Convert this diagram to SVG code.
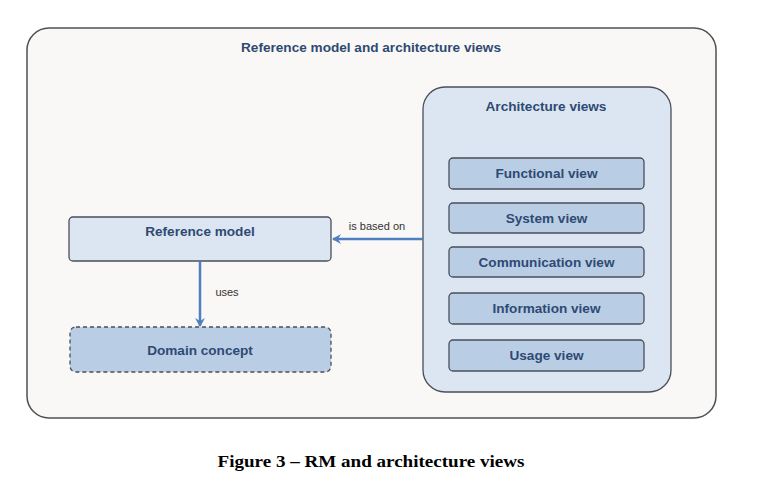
<svg xmlns="http://www.w3.org/2000/svg" width="763" height="487" viewBox="0 0 763 487">
<style>
.t{font-family:"Liberation Sans",Arial,sans-serif;font-weight:bold;font-size:13.6px;fill:#2e4a72;text-anchor:middle}
.l{font-family:"Liberation Sans",Arial,sans-serif;font-size:11px;fill:#333;text-anchor:middle}
.box{fill:#dce6f2;stroke:#4a4f57;stroke-width:1.3}
.view{fill:#b9cde5;stroke:#4a4f57;stroke-width:1.3}
.conn{stroke:#4f7fbf;stroke-width:2.5;fill:none}
</style>
<defs>
<marker id="ah" markerWidth="10" markerHeight="10" refX="8" refY="5" orient="auto" markerUnits="userSpaceOnUse">
<path d="M0,0 L9,5 L0,10 L3,5 Z" fill="#4f7fbf"/>
</marker>
</defs>
<rect width="763" height="487" fill="#ffffff"/>
<g id="outer">
<rect x="27" y="28" width="689" height="390" rx="22" fill="#f9f8f6" stroke="#505050" stroke-width="1.5"/>
<text class="t" x="371" y="52">Reference model and architecture views</text>
</g>
<g id="arch">
<rect x="423" y="87" width="248" height="305" rx="22" class="box"/>
<text class="t" x="546" y="111">Architecture views</text>
</g>
<g id="functional"><rect x="449" y="158" width="195" height="31" rx="4" class="view"/><text class="t" x="546.5" y="178">Functional view</text></g>
<g id="system"><rect x="449" y="203" width="195" height="30" rx="4" class="view"/><text class="t" x="546.5" y="223">System view</text></g>
<g id="communication"><rect x="449" y="247" width="195" height="30" rx="4" class="view"/><text class="t" x="546.5" y="267">Communication view</text></g>
<g id="information"><rect x="449" y="293" width="195" height="31" rx="4" class="view"/><text class="t" x="546.5" y="313">Information view</text></g>
<g id="usage"><rect x="449" y="340" width="195" height="31" rx="4" class="view"/><text class="t" x="546.5" y="360">Usage view</text></g>
<g id="refmodel"><rect x="69" y="217" width="262" height="44" rx="4" class="box"/><text class="t" x="200" y="236">Reference model</text></g>
<g id="domain"><rect x="70" y="327" width="261" height="45" rx="6" fill="#b9cde5" stroke="#4a4f57" stroke-width="1.3" stroke-dasharray="4,3"/><text class="t" x="200" y="355">Domain concept</text></g>
<g id="connectors">
<line x1="423" y1="239" x2="333" y2="239" class="conn" marker-end="url(#ah)"/>
<text class="l" x="377" y="230">is based on</text>
<line x1="200" y1="261" x2="200" y2="326" class="conn" marker-end="url(#ah)"/>
<text class="l" x="227" y="296">uses</text>
</g>
<text x="371" y="467" font-family="'Liberation Serif','Times New Roman',serif" font-weight="bold" font-size="16" fill="#000" text-anchor="middle" textLength="307" lengthAdjust="spacingAndGlyphs">Figure 3 – RM and architecture views</text>
</svg>
